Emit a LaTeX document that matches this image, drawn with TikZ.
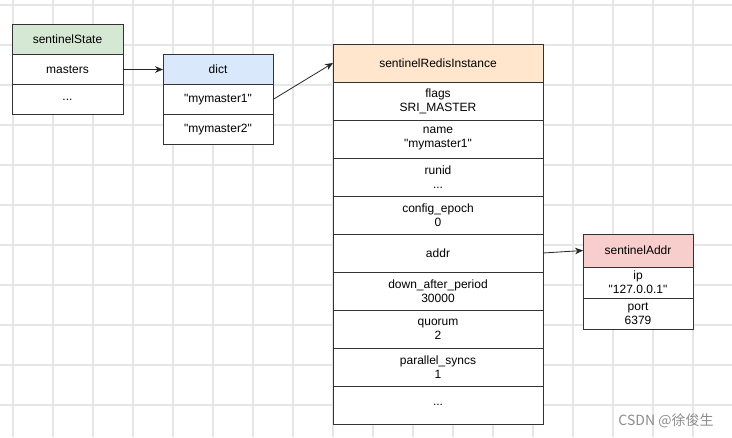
\documentclass[tikz,border=0pt]{standalone}
\usepackage{fontspec}
\setmainfont{Liberation Sans}
\newfontfamily\cjk{Noto Sans CJK SC}
\usetikzlibrary{positioning,arrows.meta}
\definecolor{hdgreen}{HTML}{D5E8D4}
\definecolor{hdblue}{HTML}{DAE8FC}
\definecolor{hdorange}{HTML}{FFE6CC}
\definecolor{hdred}{HTML}{F8CECC}
\definecolor{gridgray}{HTML}{E6E6E6}
\newcommand\qtd[1]{\textquotedbl#1\textquotedbl}
\tikzset{
  cell/.style={draw=black!80, fill=white, inner sep=0pt, outer sep=0pt, align=center, font=\fontsize{9}{10.5}\selectfont},
  statecell/.style={cell, text width=83.25pt, minimum height=22.5pt},
  dictcell/.style={cell, text width=82.5pt, minimum height=22.5pt},
  instcell/.style={cell, text width=157.5pt, minimum height=28.5pt},
  addrcell/.style={cell, text width=82.5pt, minimum height=23.25pt},
  link/.style={-{Stealth[length=6pt,width=5pt]}, black!85, semithick},
  gridline/.style={gridgray, line width=0.9pt},
}
\begin{document}
\begin{tikzpicture}[x=0.75pt,y=-0.75pt]
        \useasboundingbox (0,0) rectangle (732,437);
        \foreach \x in {13,53,...,733} \draw[gridline] (\x,0) -- (\x,437);
        \foreach \y in {5,45,...,405} \draw[gridline] (0,\y) -- (732,\y);

        \node[statecell, fill=hdgreen] (state) at (67.5,39.5) {sentinelState};
        \node[statecell, below=0pt of state] (masters) {masters};
        \node[statecell, below=0pt of masters] (staterest) {...};

        \node[dictcell, fill=hdblue] (dict) at (218,69.5) {dict};
        \node[dictcell, below=0pt of dict] (mym1) {\qtd{mymaster1}};
        \node[dictcell, below=0pt of mym1] (mym2) {\qtd{mymaster2}};

        \node[instcell, fill=hdorange] (inst) at (438,63) {sentinelRedisInstance};
        \node[instcell, below=0pt of inst] (flags) {flags\\SRI\_MASTER};
        \node[instcell, below=0pt of flags] (name) {name\\\qtd{mymaster1}};
        \node[instcell, below=0pt of name] (runid) {runid\\...};
        \node[instcell, below=0pt of runid] (epoch) {config\_epoch\\0};
        \node[instcell, below=0pt of epoch] (addr) {addr};
        \node[instcell, below=0pt of addr] (down) {down\_after\_period\\30000};
        \node[instcell, below=0pt of down] (quorum) {quorum\\2};
        \node[instcell, below=0pt of quorum] (syncs) {parallel\_syncs\\1};
        \node[instcell, below=0pt of syncs] (instrest) {...};

        \node[addrcell, fill=hdred, minimum height=24.75pt] (saddr) at (638,250.5) {sentinelAddr};
        \node[addrcell, below=0pt of saddr] (ip) {ip\\\qtd{127.0.0.1}};
        \node[addrcell, below=0pt of ip] (port) {port\\6379};

        \draw[link] (masters.east) -- (dict.west);
        \draw[link] (mym1.east) -- (inst.west);
        \draw[link] (addr.east) -- (saddr.west);

        \node[font=\cjk\fontsize{10.5}{12}\selectfont, text=black!45] (mark) at (666,421) {CSDN @徐俊生};
\end{tikzpicture}
\end{document}
